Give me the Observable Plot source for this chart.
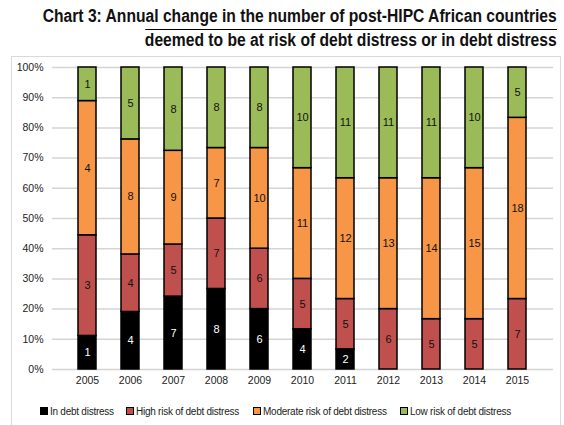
<!DOCTYPE html>
<html>
<head>
<meta charset="utf-8">
<script src="https://cdn.jsdelivr.net/npm/d3@7"></script>
<script src="https://cdn.jsdelivr.net/npm/@observablehq/plot@0.6"></script>
<style>
  html, body { margin: 0; padding: 0; background: #fff; }
  #wrap { position: relative; width: 564px; height: 425px; overflow: hidden; font-family: "Liberation Sans", Arial, sans-serif; }
  #title { position: absolute; right: 7px; top: 4px; text-align: right; white-space: nowrap;
    font-family: "Liberation Sans", Arial, sans-serif; transform-origin: right top;
    font-weight: bold; font-size: 18px; line-height: 24px; color: #111; }
  #title .l2 { display: inline-block; border-top: 1.5px solid #000; line-height: 20px; }
  #frame { position: absolute; left: 11px; top: 56px; width: 550px; height: 380px; border: 1px solid #d9d9d9; box-sizing: border-box; }
  #chart { position: absolute; left: 11px; top: 56px; }
  #legend { position: absolute; left: 0; top: 406px; width: 564px; font-size: 10px; letter-spacing: -0.25px; color: #222; }
  #legend span.item { position: absolute; white-space: nowrap; }
  #legend i { display: inline-block; width: 6px; height: 6px; border: 1px solid #000; margin-right: 2px; vertical-align: 0px; }
</style>
</head>
<body>
<div id="wrap">
  <div id="title"><span class="l1">Chart 3: Annual change in the number of post-HIPC African countries</span><br><span class="l2">deemed to be at risk of debt distress or in debt distress</span></div>
  <div id="frame"></div>
  <div id="chart"></div>
  <div id="legend"></div>
</div>
<script>
// Number of countries in each risk category, per year
const years = ["2005","2006","2007","2008","2009","2010","2011","2012","2013","2014","2015"];
const inDebtDistress = [1, 4, 7, 8, 6, 4, 2, 0, 0, 0, 0];
const highRisk       = [3, 4, 5, 7, 6, 5, 5, 6, 5, 5, 7];
const moderateRisk   = [4, 8, 9, 7, 10, 11, 12, 13, 14, 15, 18];
const lowRisk        = [1, 5, 8, 8, 8, 10, 11, 11, 11, 10, 5];

const categories = ["In debt distress", "High risk of debt distress", "Moderate risk of debt distress", "Low risk of debt distress"];
const colors = ["#000000", "#c0504d", "#f79646", "#9bbb59"];
const seriesValues = [inDebtDistress, highRisk, moderateRisk, lowRisk];

const rows = [];
categories.forEach((cat, ci) => {
  years.forEach((yr, yi) => rows.push({year: yr, category: cat, value: seriesValues[ci][yi]}));
});

const stackOpts = {x: "year", y: "value", z: "category", order: categories, offset: "normalize"};

const chart = Plot.plot({
  width: 550,
  height: 336,
  marginTop: 11,
  marginBottom: 23,
  marginLeft: 41,
  marginRight: 8,
  style: {fontFamily: "Liberation Sans, Arial, sans-serif", fontSize: "10.5px", color: "#222", background: "transparent"},
  x: {domain: years, padding: 0.58, label: null, tickSize: 0, tickPadding: 7},
  y: {domain: [0, 1], ticks: d3.range(0, 1.0001, 0.1), label: null, tickSize: 0, tickPadding: 9,
      tickFormat: d => Math.round(d * 100) + "%"},
  color: {domain: categories, range: colors},
  marks: [
    Plot.ruleY(d3.range(0, 1.0001, 0.1), {stroke: "#d4d4d4", strokeWidth: 1.5}),
    Plot.barY(rows, Plot.stackY({...stackOpts, fill: "category", stroke: "#000", strokeWidth: 1.5})),
    Plot.text(rows, Plot.stackY({...stackOpts, filter: d => d.value > 0, text: "value", y: "value",
      fill: d => d.category === categories[0] ? "#fff" : "#111", fontSize: 11}))
  ]
});
document.getElementById("chart").appendChild(chart);

// Condensed title: squeeze the heading horizontally to fit its width
const title = document.getElementById("title");
const l1 = title.querySelector(".l1");
const sx = 514 / l1.getBoundingClientRect().width;
title.style.transform = `scaleX(${sx})`;

// Legend row
const legendX = [40, 126, 253, 400];
const legend = document.getElementById("legend");
categories.forEach((cat, i) => {
  const s = document.createElement("span");
  s.className = "item";
  s.style.left = legendX[i] + "px";
  s.innerHTML = `<i style="background:${colors[i]}"></i>${cat}`;
  legend.appendChild(s);
});
</script>
</body>
</html>
